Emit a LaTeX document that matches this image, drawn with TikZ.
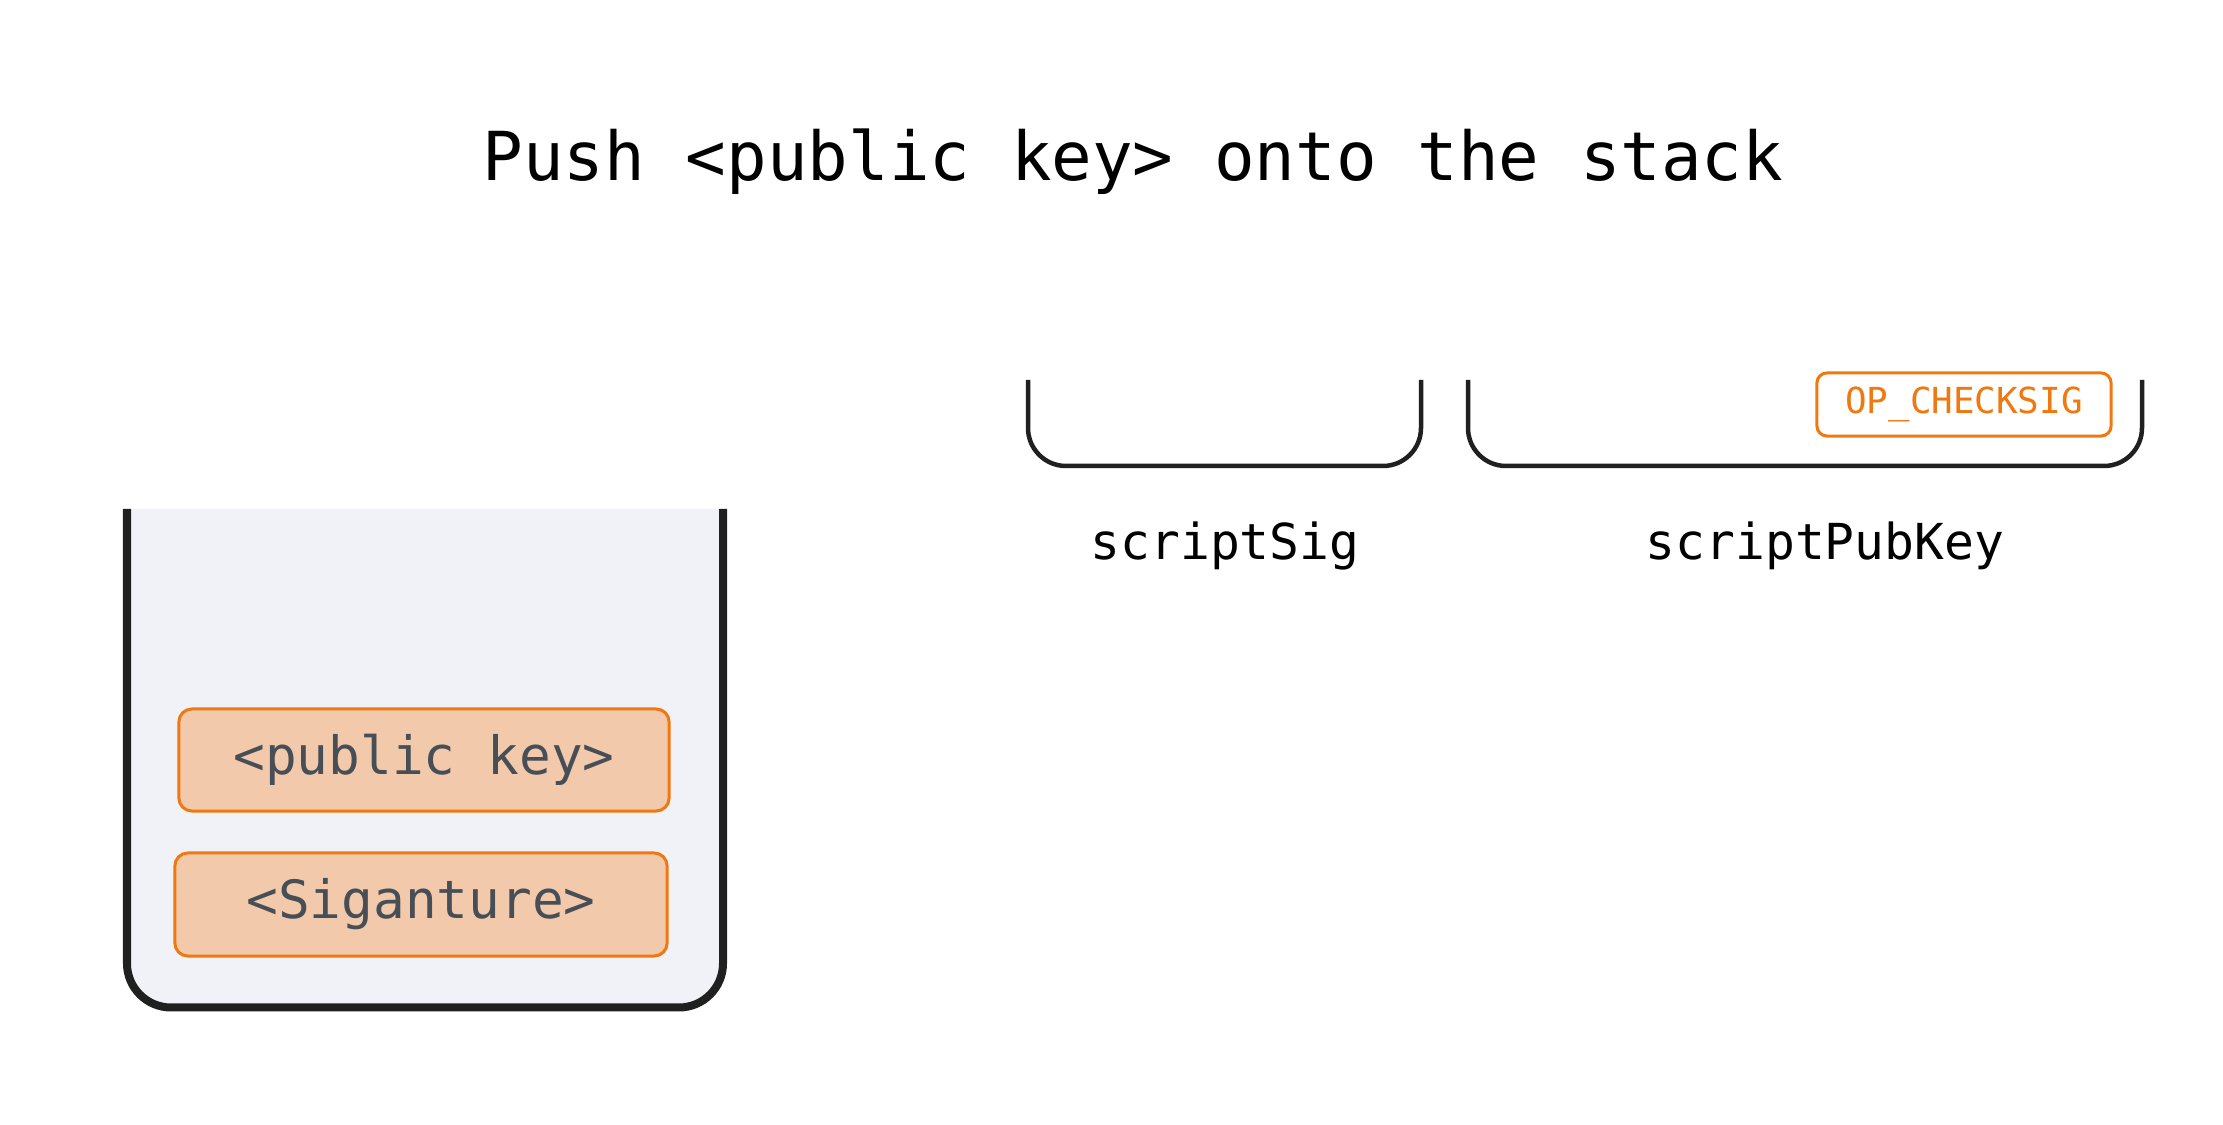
\documentclass[tikz,border=0pt]{standalone}
\usepackage{fontspec}
\setmonofont{DejaVu Sans Mono}

\definecolor{wallgray}{HTML}{202020}
\definecolor{stackbg}{HTML}{F1F2F7}
\definecolor{itemfill}{HTML}{F2C9AA}
\definecolor{itemline}{HTML}{F07810}
\definecolor{itemtext}{HTML}{474E56}

\tikzset{
    wall/.style={wallgray,line width=8*0.2845pt,rounded corners=0.44cm},
    bracket/.style={wallgray,line width=4.5*0.2845pt,rounded corners=0.38cm},
    item/.style={draw=itemline,fill=itemfill,line width=3*0.2845pt,
        rounded corners=0.13cm,text=itemtext,inner sep=0pt,
        font=\ttfamily\fontsize{15pt}{18pt}\selectfont},
    opcode/.style={draw=itemline,line width=3*0.2845pt,rounded corners=0.1cm,
        text=itemline,inner sep=0pt,
        font=\ttfamily\fontsize{10.2pt}{12pt}\selectfont},
    label/.style={font=\ttfamily\fontsize{14.1pt}{17pt}\selectfont}
}

\begin{document}
\begin{tikzpicture}[x=0.01cm,y=-0.01cm]
    \useasboundingbox (0,0) rectangle (2223,1125);

    % title
    \node[anchor=base,font=\ttfamily\fontsize{19.2pt}{23pt}\selectfont]
        (title) at (1133,181) {Push <public key> onto the stack};

    % stack
    \draw[wall,fill=stackbg] (127,509) -- (127,1007.5) -- (723,1007.5) -- (723,509);
    \node[item,minimum width=4.9cm,minimum height=1.02cm] (pubkey) at (424,760) {<public key>};
    \node[item,minimum width=4.92cm,minimum height=1.03cm] (sig) at (421,904.5) {<Siganture>};

    % scripts
    \draw[bracket] (1028,380) -- (1028,466) -- (1421,466) -- (1421,380);
    \draw[bracket] (1468,380) -- (1468,466) -- (2142,466) -- (2142,380);
    \node[opcode,minimum width=2.94cm,minimum height=0.63cm] (checksig) at (1964,404.5) {OP\_CHECKSIG};

    \node[label] (sigtext) at (1225,546) {scriptSig};
    \node[label] (pubtext) at (1825,546) {scriptPubKey};
\end{tikzpicture}
\end{document}
